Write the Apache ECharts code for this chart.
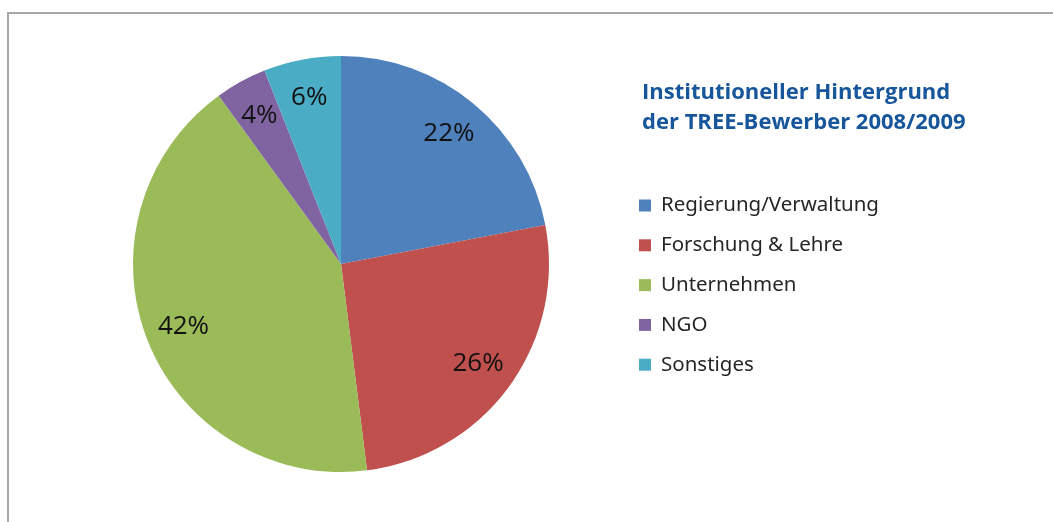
<!DOCTYPE html>
<html>
<head>
<meta charset="utf-8">
<script src="https://cdn.jsdelivr.net/npm/echarts@6/dist/echarts.min.js"></script>
<style>
  html, body { margin: 0; padding: 0; background: #fff; }
  #main { width: 1053px; height: 522px; }
</style>
</head>
<body>
<div id="main"></div>
<script>
// Anteile der Bewerber nach institutionellem Hintergrund (%)
const categories = ['Regierung/Verwaltung', 'Forschung & Lehre', 'Unternehmen', 'NGO', 'Sonstiges']
const shares = [22, 26, 42, 4, 6]
const colors = ['#4F81BD', '#C0504D', '#9BBB59', '#8064A2', '#4BACC6']
const titleLines = ['Institutioneller Hintergrund', 'der TREE-Bewerber 2008/2009']

const pieData = categories.map((name, i) => ({ name, value: shares[i] }))

const chart = echarts.init(document.getElementById('main'), null, { renderer: 'canvas' })

const center = [341, 264]
const R = 208

chart.setOption({
  animation: false,
  color: colors,
  title: {
    text: titleLines.join('\n'),
    left: 642,
    top: 78,
    padding: 0,
    textStyle: {
      fontFamily: 'Open Sans',
      fontWeight: 'bold',
      fontSize: 22,
      lineHeight: 30,
      color: '#17569B'
    }
  },
  legend: {
    orient: 'vertical',
    left: 639,
    top: 195,
    padding: 0,
    data: categories,
    icon: 'rect',
    itemWidth: 12,
    itemHeight: 12,
    itemGap: 18.8,
    textStyle: {
      fontFamily: 'Noto Sans',
      fontSize: 20.5,
      lineHeight: 20,
      color: '#262626',
      padding: [0, 0, 0, 5]
    }
  },
  // Rahmen oben/links
  graphic: [
    {
      type: 'polyline',
      silent: true,
      shape: { points: [[8, 600], [8, 13], [1100, 13]] },
      style: { stroke: '#A6A6A6', lineWidth: 2, fill: null }
    }
  ],
  series: [
    {
      // sichtbare Torte
      type: 'pie',
      center: center,
      radius: [0, R],
      startAngle: 90,
      clockwise: true,
      silent: true,
      label: { show: false },
      labelLine: { show: false },
      itemStyle: { borderWidth: 0 },
      data: pieData
    },
    {
      // unsichtbarer Ring, nur für die Beschriftung weiter außen
      type: 'pie',
      center: center,
      radius: [R * 0.6, R],
      startAngle: 90,
      clockwise: true,
      silent: true,
      itemStyle: { color: 'rgba(0,0,0,0)', borderWidth: 0 },
      label: {
        show: true,
        position: 'inside',
        formatter: '{c}%',
        fontFamily: 'Open Sans',
        fontSize: 26,
        color: '#111'
      },
      labelLine: { show: false },
      data: pieData
    }
  ]
})
</script>
</body>
</html>
